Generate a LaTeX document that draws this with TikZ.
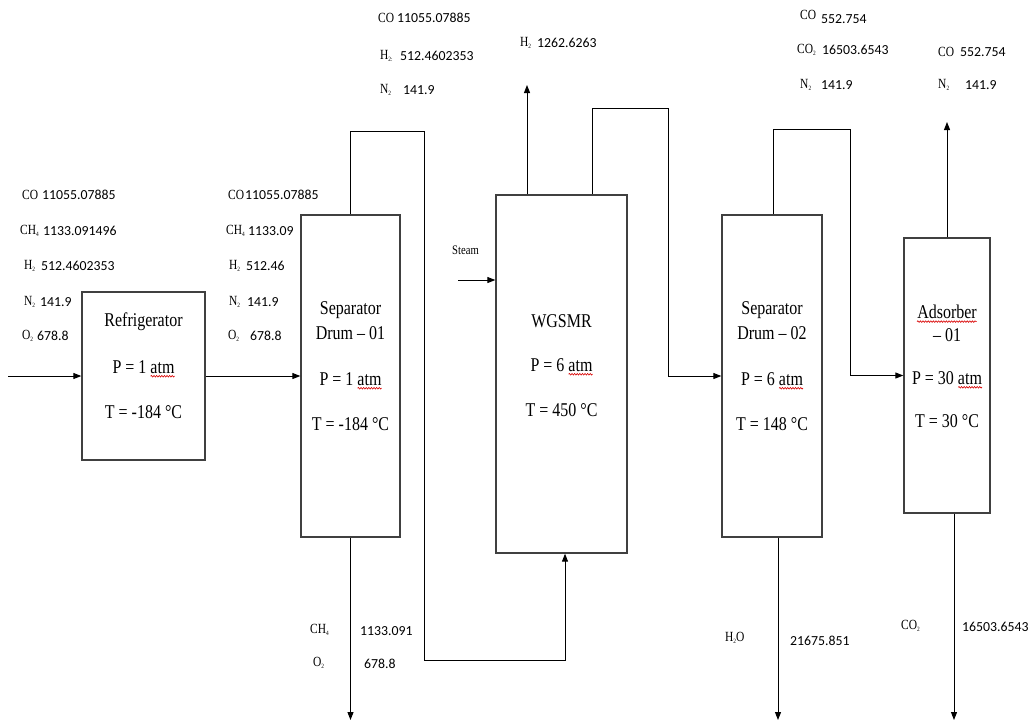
\documentclass[tikz,border=0pt]{standalone}
\usepackage{fontspec}
\usepackage{graphicx}
\setmainfont{Liberation Serif}
\newfontfamily\numfont{Carlito}
\usetikzlibrary{arrows.meta,calc,decorations.pathmorphing}
\newcommand\cond[1]{\scalebox{0.82}[1]{#1}}
\newcommand\chsb[1]{\raisebox{-0.35ex}{\fontsize{6.5}{6.5}\selectfont #1}}
\begin{document}
\begin{tikzpicture}[x=1pt,y=-1pt,
  box/.style={draw=black!75, line width=1.3pt, fill=white, inner sep=0pt},
  flow/.style={line width=1pt, -{Triangle[length=8pt,width=6pt]}},
  txt/.style={inner sep=0pt, text=black, font=\fontsize{19.5}{19.5}\selectfont},
  chem/.style={inner sep=0pt, anchor=west, text=black, font=\fontsize{14}{14}\selectfont},
  num/.style={inner sep=0pt, anchor=west, text=black, font=\numfont\fontsize{13.8}{13.8}\selectfont},
  squig/.style={draw=red!85!black, line width=0.6pt, decorate, decoration={snake, amplitude=0.8pt, segment length=2.6pt}}
]
\useasboundingbox (0,0) rectangle (1036,724);

% ---------- unit boxes ----------
\node[box, minimum width=123pt, minimum height=168pt] (ref)  at (143.5,376) {};
\node[box, minimum width=99pt,  minimum height=322pt] (sep1) at (350.5,376) {};
\node[box, minimum width=131pt, minimum height=358pt] (wg)   at (561.5,374) {};
\node[box, minimum width=100pt, minimum height=322pt] (sep2) at (772,376) {};
\node[box, minimum width=86pt,  minimum height=275pt] (ads)  at (947,375.5) {};

% ---------- box texts ----------
\node[txt] (t1a) at (143.5,322) {\cond{Refrigerator}};
\node[txt] (t1b) at (143.5,367) {\cond{P = 1 atm}};
\node[txt] (t1c) at (143.5,412) {\cond{T = -184 °C}};

\node[txt] (t2a) at (350.5,310) {\cond{Separator}};
\node[txt] (t2b) at (350.5,333) {\cond{Drum – 01}};
\node[txt] (t2c) at (350.5,379) {\cond{P = 1 atm}};
\node[txt] (t2d) at (350.5,424) {\cond{T = -184 °C}};

\node[txt] (t3a) at (561.5,321) {\cond{WGSMR}};
\node[txt] (t3b) at (561.5,365) {\cond{P = 6 atm}};
\node[txt] (t3c) at (561.5,410) {\cond{T = 450 °C}};

\node[txt] (t4a) at (772,310) {\cond{Separator}};
\node[txt] (t4b) at (772,333) {\cond{Drum – 02}};
\node[txt] (t4c) at (772,379) {\cond{P = 6 atm}};
\node[txt] (t4d) at (772,424) {\cond{T = 148 °C}};

\node[txt] (t5a) at (947,312) {\cond{Adsorber}};
\node[txt] (t5b) at (947,335) {\cond{– 01}};
\node[txt] (t5c) at (947,378) {\cond{P = 30 atm}};
\node[txt] (t5d) at (947,421) {\cond{T = 30 °C}};

% spell-check squiggles
\draw[squig] ($(t1b.south east)+(-24,2.5)$) -- ($(t1b.south east)+(0,2.5)$);
\draw[squig] ($(t2c.south east)+(-24,2.5)$) -- ($(t2c.south east)+(0,2.5)$);
\draw[squig] ($(t3b.south east)+(-24,2.5)$) -- ($(t3b.south east)+(0,2.5)$);
\draw[squig] ($(t4c.south east)+(-24,2.5)$) -- ($(t4c.south east)+(0,2.5)$);
\draw[squig] ($(t5c.south east)+(-24,2.5)$) -- ($(t5c.south east)+(0,2.5)$);
\draw[squig] ($(t5a.south west)+(0,2.5)$) -- ($(t5a.south east)+(0,2.5)$);

% ---------- connectors ----------
\coordinate (in) at (8,376);
\draw[flow] (in) -- (ref.west);
\draw[flow] (ref.east) -- (sep1.west);

\coordinate (k1) at (424,131);
\coordinate (k2) at (424,660);
\draw[flow] (sep1.north) |- (k1) -- (k2) -| ($(wg.south)+(3.5,0)$);

\coordinate (o1) at (350.5,720);
\draw[flow] (sep1.south) -- (o1);

\coordinate (o2) at (527,85);
\draw[flow] (wg.north -| o2) -- (o2);

\coordinate (k3) at (668,108);
\draw[flow] ($(wg.north)+(30.5,0)$) |- (k3) |- (sep2.west);

\coordinate (st) at (458,280);
\draw[flow] (st) -- (st -| wg.west);

\coordinate (k4) at (850,129);
\draw[flow] ($(sep2.north)+(1,0)$) |- (k4) |- (ads.west);

\coordinate (o3) at (778,720);
\draw[flow] (sep2.south -| o3) -- (o3);

\coordinate (o4) at (947,122);
\draw[flow] (ads.north) -- (o4);

\coordinate (o5) at (954,720);
\draw[flow] (ads.south -| o5) -- (o5);

\node[inner sep=0pt, anchor=west, text=black, font=\fontsize{13}{13}\selectfont] (steam) at (452,250) {\cond{Steam}};

% ---------- feed stream labels ----------
\node[chem] (a1) at (22,195) {\cond{CO}};        \node[num] (a1n) at (42,195) {11055.07885};
\node[chem] (a2) at (20,231) {\cond{CH\chsb{4}}}; \node[num] (a2n) at (43,231) {1133.091496};
\node[chem] (a3) at (24,266) {\cond{H\chsb{2}}};  \node[num] (a3n) at (41,266) {512.4602353};
\node[chem] (a4) at (24,302) {\cond{N\chsb{2}}};  \node[num] (a4n) at (40,302) {141.9};
\node[chem] (a5) at (22,336) {\cond{O\chsb{2}}};  \node[num] (a5n) at (37,336) {678.8};

% ---------- separator 01 inlet labels ----------
\node[chem] (b1) at (228,195) {\cond{CO}};        \node[num] (b1n) at (245,195) {11055.07885};
\node[chem] (b2) at (226,231) {\cond{CH\chsb{4}}}; \node[num] (b2n) at (248,231) {1133.09};
\node[chem] (b3) at (229,266) {\cond{H\chsb{2}}};  \node[num] (b3n) at (246,266) {512.46};
\node[chem] (b4) at (229,302) {\cond{N\chsb{2}}};  \node[num] (b4n) at (247,302) {141.9};
\node[chem] (b5) at (228,336) {\cond{O\chsb{2}}};  \node[num] (b5n) at (250,336) {678.8};

% ---------- separator 01 overhead labels ----------
\node[chem] (c1) at (378,18) {\cond{CO}};          \node[num] (c1n) at (397,18) {11055.07885};
\node[chem] (c2) at (380,56) {\cond{H\chsb{2:}}};  \node[num] (c2n) at (400,56) {512.4602353};
\node[chem] (c3) at (380,90) {\cond{N\chsb{2}}};   \node[num] (c3n) at (403,90) {141.9};

\node[chem] (d1) at (520,43) {\cond{H\chsb{2}}};   \node[num] (d1n) at (537,43) {1262.6263};

% ---------- separator 02 overhead labels ----------
\node[chem] (e1) at (800,15) {\cond{CO}};          \node[num] (e1n) at (821,19) {552.754};
\node[chem] (e2) at (797,50) {\cond{CO\chsb{2}}};  \node[num] (e2n) at (822,50) {16503.6543};
\node[chem] (e3) at (800,85) {\cond{N\chsb{2}}};   \node[num] (e3n) at (821,85) {141.9};

\node[chem] (f1) at (938,52) {\cond{CO}};          \node[num] (f1n) at (960,52) {552.754};
\node[chem] (f2) at (938,85) {\cond{N\chsb{2}}};   \node[num] (f2n) at (965,85) {141.9};

% ---------- bottom labels ----------
\node[chem] (g1) at (310,630) {\cond{CH\chsb{4}}}; \node[num] (g1n) at (360,631) {1133.091};
\node[chem] (g2) at (313,663) {\cond{O\chsb{2}}};  \node[num] (g2n) at (364,664) {678.8};

\node[chem] (h1) at (725,638) {\cond{H\chsb{2}O}}; \node[num] (h1n) at (790,641) {21675.851};

\node[chem] (i1) at (901,626) {\cond{CO\chsb{2}}}; \node[num] (i1n) at (962,627) {16503.6543};
\end{tikzpicture}
\end{document}
